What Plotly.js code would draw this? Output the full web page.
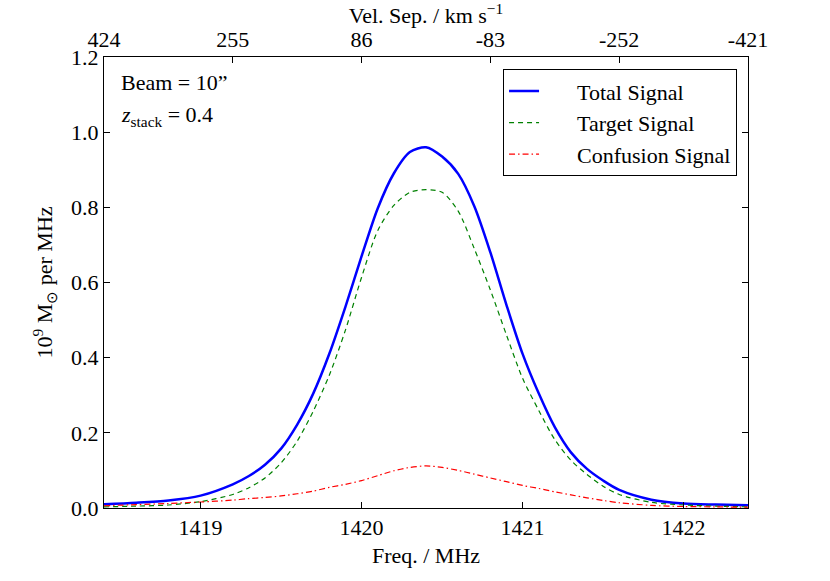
<!DOCTYPE html>
<html>
<head>
<meta charset="utf-8">
<script src="https://cdn.plot.ly/plotly-3.0.1.min.js"></script>
<style>
  body { margin: 0; background: #fff; }
  #plot { width: 830px; height: 581px; }
</style>
</head>
<body>
<div id="plot"></div>
<script>
// frequency grid (MHz) and the three signals
const freq = [1418.4, 1418.6, 1418.8, 1419.0, 1419.2, 1419.3, 1419.4, 1419.5, 1419.6, 1419.7,
	1419.8, 1419.9, 1420.0, 1420.1, 1420.2, 1420.3, 1420.4, 1420.5, 1420.6, 1420.7,
	1420.8, 1420.9, 1421.0, 1421.1, 1421.2, 1421.3, 1421.4, 1421.5, 1421.6, 1421.8,
	1422.0, 1422.2, 1422.4];
const totalSignal = [0.010, 0.014, 0.020, 0.033, 0.063, 0.085, 0.115, 0.158, 0.222, 0.305,
	0.411, 0.536, 0.670, 0.797, 0.890, 0.947, 0.960, 0.935, 0.889, 0.803,
	0.680, 0.540, 0.410, 0.305, 0.215, 0.148, 0.104, 0.073, 0.048, 0.022,
	0.012, 0.009, 0.007];
const targetSignal = [0.003, 0.005, 0.008, 0.017, 0.036, 0.054, 0.080, 0.120, 0.178, 0.258,
	0.354, 0.474, 0.614, 0.738, 0.805, 0.840, 0.847, 0.840, 0.790, 0.690,
	0.580, 0.460, 0.345, 0.260, 0.182, 0.127, 0.089, 0.058, 0.036, 0.015,
	0.008, 0.005, 0.003];
const confusionSignal = [0.006, 0.009, 0.012, 0.016, 0.021, 0.025, 0.028, 0.032, 0.038, 0.045,
	0.055, 0.063, 0.073, 0.086, 0.099, 0.108, 0.112, 0.108, 0.100, 0.090,
	0.080, 0.070, 0.060, 0.052, 0.043, 0.035, 0.027, 0.020, 0.014, 0.007,
	0.004, 0.003, 0.002];

// top axis: velocity separation labels at evenly spaced frequencies
const velTickFreq = [1418.4, 1419.2, 1420.0, 1420.8, 1421.6, 1422.4];
const velTickText = ['424', '255', '86', '-83', '-252', '-421'];

const xRange = [1418.4, 1422.4];
const serif = 'Liberation Serif';
const pad = '\u00a0\u00a0\u00a0\u00a0\u00a0\u00a0';

const traces = [
	{x: freq, y: totalSignal, name: pad + 'Total Signal', mode: 'lines',
		line: {color: '#0000ff', width: 2.5, shape: 'spline', smoothing: 0.8}},
	{x: freq, y: targetSignal, name: pad + 'Target Signal', mode: 'lines',
		line: {color: '#008000', width: 1.2, dash: '5px,4px', shape: 'spline', smoothing: 0.8}},
	{x: freq, y: confusionSignal, name: pad + 'Confusion Signal', mode: 'lines',
		line: {color: '#ff0000', width: 1.2, dash: '6px,3px,1.5px,3px', shape: 'spline', smoothing: 0.8}},
	// carrier for the top axis
	{x: freq, y: totalSignal, xaxis: 'x2', mode: 'lines', opacity: 0,
		showlegend: false, hoverinfo: 'skip'}
];

const layout = {
	width: 830,
	height: 581,
	margin: {l: 104, r: 82, t: 57, b: 73},
	paper_bgcolor: '#fff',
	plot_bgcolor: '#fff',
	font: {family: serif, size: 22, color: '#000'},
	showlegend: true,
	legend: {
		x: 0.983, y: 0.973, xanchor: 'right', yanchor: 'top',
		bgcolor: '#fff', bordercolor: '#000', borderwidth: 1,
		font: {family: serif, size: 22},
		tracegroupgap: 0
	},
	xaxis: {
		range: xRange,
		tickvals: [1419, 1420, 1421, 1422],
		ticks: 'inside', ticklen: 6, tickcolor: '#000',
		showline: true, linecolor: '#000', linewidth: 1, mirror: true,
		showgrid: false, zeroline: false,
		tickfont: {family: serif, size: 22},
		title: {text: 'Freq. / MHz', font: {family: serif, size: 22}, standoff: 8}
	},
	xaxis2: {
		overlaying: 'x', side: 'top', anchor: 'y',
		range: xRange,
		tickvals: velTickFreq, ticktext: velTickText,
		ticks: 'inside', ticklen: 6, tickcolor: '#000',
		showline: true, linecolor: '#000',
		showgrid: false, zeroline: false,
		tickfont: {family: serif, size: 22},
		title: {text: 'Vel. Sep. / km s<sup>\u22121</sup>', font: {family: serif, size: 22}, standoff: 4}
	},
	yaxis: {
		range: [0, 1.2],
		tickvals: [0, 0.2, 0.4, 0.6, 0.8, 1.0, 1.2],
		tickformat: '.1f',
		ticks: 'inside', ticklen: 6, tickcolor: '#000',
		showline: true, linecolor: '#000', linewidth: 1, mirror: 'ticks',
		showgrid: false, zeroline: false,
		tickfont: {family: serif, size: 22},
		title: {text: '10<sup>9</sup> M<sub>\u2299</sub> per MHz', font: {family: serif, size: 22}, standoff: 12}
	},
	annotations: [
		{xref: 'paper', yref: 'paper', x: 0.024, y: 0.975, xanchor: 'left', yanchor: 'top',
			text: 'Beam = 10\u201d', showarrow: false, font: {family: serif, size: 22}},
		{xref: 'paper', yref: 'paper', x: 0.024, y: 0.905, xanchor: 'left', yanchor: 'top',
			text: '<i>z</i><sub>stack</sub> = 0.4', showarrow: false, font: {family: serif, size: 22}}
	]
};

Plotly.newPlot('plot', traces, layout, {displayModeBar: false, staticPlot: true});
</script>
</body>
</html>
